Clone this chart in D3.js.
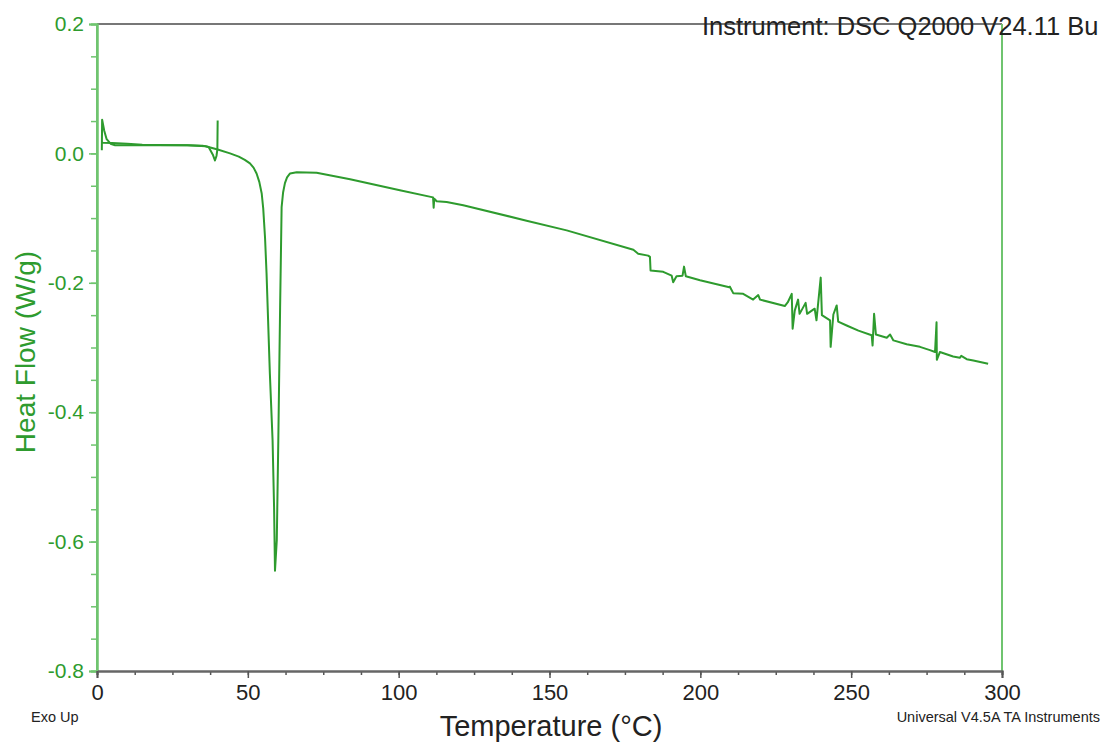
<!DOCTYPE html>
<meta charset="utf-8">
<style>
body { margin: 0; background: #fff; }
text { font-family: "Liberation Sans", Arial, sans-serif; }
</style>
<svg width="1108" height="745"></svg>
<script src="https://d3js.org/d3.v7.min.js"></script>
<script>
// cooling segment 40 -> 0 C (starts with the jump at 40)
var coolT  = [40.0, 39.9, 39.6, 39.1, 38.4, 37.0, 35.0, 30.0, 20.0, 15.0, 10.0, 5.0, 2.0, 1.4];
var coolHF = [0.051, 0.006, -0.004, -0.011, -0.002, 0.010, 0.012, 0.0125, 0.013, 0.0135, 0.015, 0.016, 0.0165, 0.017];

// heating segment 0 -> 296 C
var heatT  = [1.6, 1.7, 2.4, 3.2, 4.5, 6, 10, 20, 30, 36, 40, 44.1, 47, 49, 50.7, 51.9, 52.9, 53.8, 54.6, 55.1, 55.7, 56.2,
  57.3, 58.2, 58.7, 59.0,
  59.6, 60.1, 60.7, 61.2, 61.7, 62.3, 63.0, 64.0, 66.2, 72.8, 83.9, 100.4, 111.4, 111.6, 111.8, 112.6, 115.9, 121.4, 142.4,
  155.7,
  177.8, 179.4, 182.7, 183.3, 183.5, 187.7, 190.5, 191.0, 192.1, 194.1, 194.6, 195.2, 199.9, 209.6, 209.8, 210.9, 214.2,
  217.5, 219.2, 219.8, 228.0, 229.0, 230.3, 230.6, 231.3, 232.4, 232.9, 234.9, 235.4, 237.9, 238.5, 239.9, 240.3, 243.0,
  243.2, 244.1, 245.2, 245.7, 248.5, 252.4, 256.8, 257.1, 257.6, 258.2, 261.8, 262.9, 264.0, 268.4, 272.8, 276.1, 277.8,
  278.3, 278.4, 279.4, 283.8, 286.0, 286.5, 288.3, 290.5, 295.4];
var heatHF = [0.005, 0.052, 0.035, 0.022, 0.015, 0.0125, 0.0125, 0.0125, 0.0125, 0.011, 0.006, 0.000, -0.005, -0.010,
  -0.0155, -0.022, -0.031, -0.044, -0.062, -0.085, -0.13, -0.185,
  -0.34, -0.443, -0.547, -0.645,
  -0.598, -0.444, -0.238, -0.083, -0.060, -0.046, -0.037, -0.031, -0.029, -0.030, -0.040, -0.057, -0.068, -0.084, -0.070,
  -0.074, -0.075, -0.080, -0.104, -0.119,
  -0.149, -0.155, -0.158, -0.160, -0.181, -0.183, -0.189, -0.199, -0.190, -0.189, -0.175, -0.190, -0.196, -0.207, -0.206,
  -0.216, -0.217,
  -0.226, -0.219, -0.226, -0.236, -0.230, -0.217, -0.271, -0.243, -0.226, -0.248, -0.231, -0.248, -0.240, -0.258, -0.192,
  -0.250, -0.258,
  -0.299, -0.249, -0.235, -0.260, -0.266, -0.274, -0.281, -0.297, -0.248, -0.280, -0.285, -0.280, -0.289, -0.295, -0.299,
  -0.304, -0.307,
  -0.261, -0.319, -0.307, -0.314, -0.316, -0.313, -0.318, -0.320, -0.325];

var xTicks = [0, 50, 100, 150, 200, 250, 300];
var yTicks = [-0.8, -0.6, -0.4, -0.2, 0.0, 0.2];

var green = "#2e9b2e", axisGreen = "#6fc46f";

var svg = d3.select("svg");
var x = d3.scaleLinear().domain([0, 300]).range([97, 1002]);
var y = d3.scaleLinear().domain([-0.8, 0.2]).range([671, 24]);

// frame: top grey, right green
svg.append("line").attr("x1", 97).attr("x2", 1002).attr("y1", y(0.2)).attr("y2", y(0.2))
  .attr("stroke", "#777").attr("stroke-width", 2);
svg.append("line").attr("x1", x(300)).attr("x2", x(300)).attr("y1", y(0.2)).attr("y2", y(-0.8))
  .attr("stroke", axisGreen).attr("stroke-width", 2);

// y axis
var yMinor = svg.append("g").attr("transform", "translate(" + x(0) + ",0)")
  .call(d3.axisLeft(y).tickValues(d3.range(-0.8, 0.21, 0.05)).tickSize(6).tickFormat(""));
var yAxis = svg.append("g").attr("transform", "translate(" + x(0) + ",0)")
  .call(d3.axisLeft(y).tickValues(yTicks).tickSize(8).tickPadding(5)
    .tickFormat(function(d) { return d3.format(".1f")(d).replace("\u2212", "-"); }));
[yMinor, yAxis].forEach(function(a) {
  a.select(".domain").attr("stroke", axisGreen).attr("stroke-width", 2);
  a.selectAll(".tick line").attr("stroke", axisGreen).attr("stroke-width", 1.5);
});
yAxis.selectAll("text").attr("fill", green).style("font-size", "21px");

// x axis
var xMinor = svg.append("g").attr("transform", "translate(0," + y(-0.8) + ")")
  .call(d3.axisBottom(x).tickValues(d3.range(0, 301, 12.5)).tickSize(4).tickFormat(""));
var xAxis = svg.append("g").attr("transform", "translate(0," + y(-0.8) + ")")
  .call(d3.axisBottom(x).tickValues(xTicks).tickSize(7).tickPadding(6));
[xMinor, xAxis].forEach(function(a) {
  a.select(".domain").attr("stroke", "#666").attr("stroke-width", 2);
  a.selectAll(".tick line").attr("stroke", "#555").attr("stroke-width", 1.5);
});
xAxis.selectAll("text").attr("fill", "#222").style("font-size", "22px");
// redraw green left axis over the corner
svg.append("line").attr("x1", x(0)).attr("x2", x(0)).attr("y1", y(0.2)).attr("y2", y(-0.8))
  .attr("stroke", axisGreen).attr("stroke-width", 2);

// curves
var line = d3.line().x(function(d) { return x(d[0]); }).y(function(d) { return y(d[1]); });
var cool = coolT.map(function(t, i) { return [t, coolHF[i]]; });
var heat = heatT.map(function(t, i) { return [t, heatHF[i]]; });
[cool, heat].forEach(function(s) {
  svg.append("path").datum(s).attr("d", line).attr("fill", "none")
    .attr("stroke", green).attr("stroke-width", 2).attr("stroke-linejoin", "round");
});

// labels
svg.append("text").attr("x", 551).attr("y", 736).attr("text-anchor", "middle")
  .style("font-size", "29px").attr("fill", "#222").text("Temperature (°C)");
svg.append("text").attr("transform", "translate(35,352) rotate(-90)").attr("text-anchor", "middle")
  .style("font-size", "28px").attr("fill", green).text("Heat Flow (W/g)");
svg.append("text").attr("x", 31).attr("y", 722).style("font-size", "14.5px").attr("fill", "#222").text("Exo Up");
svg.append("text").attr("x", 1100).attr("y", 722).attr("text-anchor", "end").style("font-size", "14.5px")
  .attr("fill", "#222").text("Universal V4.5A TA Instruments");
svg.append("text").attr("x", 702).attr("y", 35).style("font-size", "25.5px").attr("fill", "#222")
  .text("Instrument: DSC Q2000 V24.11 Bu");
</script>
